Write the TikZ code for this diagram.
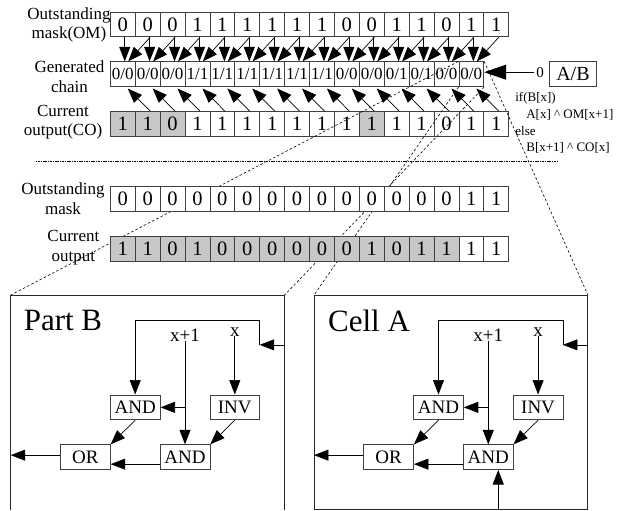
\documentclass[tikz,border=0pt]{standalone}
\usepackage{fontspec}
\setmainfont{Liberation Serif}
\usetikzlibrary{arrows.meta}
\tikzset{
  cellbox/.style={draw=black!75,line width=0.8pt,rectangle,inner sep=0pt,minimum width=24.9pt,minimum height=24.9pt,font=\fontsize{20.5}{20.5}\selectfont},
  chainbox/.style={cellbox,font=\fontsize{17}{17}\selectfont},
  graycell/.style={cellbox,fill=black!22},
  whitecell/.style={cellbox,fill=white},
  gatebox/.style={draw=black!75,line width=0.8pt,rectangle,inner sep=0pt,minimum width=49.8pt,minimum height=24.9pt,font=\fontsize{19}{19}\selectfont},
  rowlabel/.style={align=center,inner sep=0pt,font=\fontsize{17}{19.5}\selectfont},
  codeline/.style={anchor=west,inner sep=0pt,font=\fontsize{13}{13}\selectfont},
  inlabel/.style={inner sep=0pt,font=\fontsize{19}{19}\selectfont},
  titlelabel/.style={inner sep=0pt,font=\fontsize{31}{31}\selectfont},
  arrowline/.style={line width=0.7pt,-{Triangle[length=14.5pt,width=11pt]}},
  bigarrow/.style={line width=0.8pt,-{Triangle[length=22pt,width=15pt]}},
  zoomline/.style={line width=0.6pt,dash pattern=on 2.5pt off 2.2pt},
  wallline/.style={line width=0.8pt,black!85}
}
\begin{document}
\begin{tikzpicture}[x=24.9pt,y=24.9pt]
\node[rowlabel] (lom) at (-1.66,19.48) {Outstanding\\mask(OM)};
\node[rowlabel] (lgc) at (-1.64,17.41) {Generated\\chain};
\node[rowlabel] (lco) at (-1.9,15.58) {Current\\output(CO)};
\node[cellbox] (om0) at (0.5,19.5) {0};
\node[cellbox] (om1) at (1.5,19.5) {0};
\node[cellbox] (om2) at (2.5,19.5) {0};
\node[cellbox] (om3) at (3.5,19.5) {1};
\node[cellbox] (om4) at (4.5,19.5) {1};
\node[cellbox] (om5) at (5.5,19.5) {1};
\node[cellbox] (om6) at (6.5,19.5) {1};
\node[cellbox] (om7) at (7.5,19.5) {1};
\node[cellbox] (om8) at (8.5,19.5) {1};
\node[cellbox] (om9) at (9.5,19.5) {0};
\node[cellbox] (om10) at (10.5,19.5) {0};
\node[cellbox] (om11) at (11.5,19.5) {1};
\node[cellbox] (om12) at (12.5,19.5) {1};
\node[cellbox] (om13) at (13.5,19.5) {0};
\node[cellbox] (om14) at (14.5,19.5) {1};
\node[cellbox] (om15) at (15.5,19.5) {1};
\node[chainbox] (gc0) at (0.5,17.5) {0/0};
\node[chainbox] (gc1) at (1.5,17.5) {0/0};
\node[chainbox] (gc2) at (2.5,17.5) {0/0};
\node[chainbox] (gc3) at (3.5,17.5) {1/1};
\node[chainbox] (gc4) at (4.5,17.5) {1/1};
\node[chainbox] (gc5) at (5.5,17.5) {1/1};
\node[chainbox] (gc6) at (6.5,17.5) {1/1};
\node[chainbox] (gc7) at (7.5,17.5) {1/1};
\node[chainbox] (gc8) at (8.5,17.5) {1/1};
\node[chainbox] (gc9) at (9.5,17.5) {0/0};
\node[chainbox] (gc10) at (10.5,17.5) {0/0};
\node[chainbox] (gc11) at (11.5,17.5) {0/1};
\node[chainbox] (gc12) at (12.5,17.5) {0/1};
\node[chainbox] (gc13) at (13.5,17.5) {0/0};
\node[chainbox] (gc14) at (14.5,17.5) {0/0};
\node[graycell] (co0) at (0.5,15.5) {1};
\node[graycell] (co1) at (1.5,15.5) {1};
\node[graycell] (co2) at (2.5,15.5) {0};
\node[cellbox] (co3) at (3.5,15.5) {1};
\node[cellbox] (co4) at (4.5,15.5) {1};
\node[cellbox] (co5) at (5.5,15.5) {1};
\node[cellbox] (co6) at (6.5,15.5) {1};
\node[cellbox] (co7) at (7.5,15.5) {1};
\node[cellbox] (co8) at (8.5,15.5) {1};
\node[cellbox] (co9) at (9.5,15.5) {1};
\node[graycell] (co10) at (10.5,15.5) {1};
\node[cellbox] (co11) at (11.5,15.5) {1};
\node[cellbox] (co12) at (12.5,15.5) {1};
\node[cellbox] (co13) at (13.5,15.5) {0};
\node[cellbox] (co14) at (14.5,15.5) {1};
\node[cellbox] (co15) at (15.5,15.5) {1};
\draw[arrowline] ([xshift=2pt]om0.south) -- ([xshift=2pt]gc0.north);
\draw[arrowline] ([xshift=2pt]om1.south) -- ([xshift=2pt]gc1.north);
\draw[arrowline] ([xshift=2pt]om2.south) -- ([xshift=2pt]gc2.north);
\draw[arrowline] ([xshift=2pt]om3.south) -- ([xshift=2pt]gc3.north);
\draw[arrowline] ([xshift=2pt]om4.south) -- ([xshift=2pt]gc4.north);
\draw[arrowline] ([xshift=2pt]om5.south) -- ([xshift=2pt]gc5.north);
\draw[arrowline] ([xshift=2pt]om6.south) -- ([xshift=2pt]gc6.north);
\draw[arrowline] ([xshift=2pt]om7.south) -- ([xshift=2pt]gc7.north);
\draw[arrowline] ([xshift=2pt]om8.south) -- ([xshift=2pt]gc8.north);
\draw[arrowline] ([xshift=2pt]om9.south) -- ([xshift=2pt]gc9.north);
\draw[arrowline] ([xshift=2pt]om10.south) -- ([xshift=2pt]gc10.north);
\draw[arrowline] ([xshift=2pt]om11.south) -- ([xshift=2pt]gc11.north);
\draw[arrowline] ([xshift=2pt]om12.south) -- ([xshift=2pt]gc12.north);
\draw[arrowline] ([xshift=2pt]om13.south) -- ([xshift=2pt]gc13.north);
\draw[arrowline] ([xshift=2pt]om14.south) -- ([xshift=2pt]gc14.north);
\draw[arrowline] ([xshift=2.5pt]om1.south) -- ([xshift=5.5pt]gc0.north);
\draw[arrowline] ([xshift=2.5pt]om2.south) -- ([xshift=5.5pt]gc1.north);
\draw[arrowline] ([xshift=2.5pt]om3.south) -- ([xshift=5.5pt]gc2.north);
\draw[arrowline] ([xshift=2.5pt]om4.south) -- ([xshift=5.5pt]gc3.north);
\draw[arrowline] ([xshift=2.5pt]om5.south) -- ([xshift=5.5pt]gc4.north);
\draw[arrowline] ([xshift=2.5pt]om6.south) -- ([xshift=5.5pt]gc5.north);
\draw[arrowline] ([xshift=2.5pt]om7.south) -- ([xshift=5.5pt]gc6.north);
\draw[arrowline] ([xshift=2.5pt]om8.south) -- ([xshift=5.5pt]gc7.north);
\draw[arrowline] ([xshift=2.5pt]om9.south) -- ([xshift=5.5pt]gc8.north);
\draw[arrowline] ([xshift=2.5pt]om10.south) -- ([xshift=5.5pt]gc9.north);
\draw[arrowline] ([xshift=2.5pt]om11.south) -- ([xshift=5.5pt]gc10.north);
\draw[arrowline] ([xshift=2.5pt]om12.south) -- ([xshift=5.5pt]gc11.north);
\draw[arrowline] ([xshift=2.5pt]om13.south) -- ([xshift=5.5pt]gc12.north);
\draw[arrowline] ([xshift=2.5pt]om14.south) -- ([xshift=5.5pt]gc13.north);
\draw[arrowline] ([xshift=2.5pt]om15.south) -- ([xshift=5.5pt]gc14.north);
\draw[arrowline] ([xshift=2.5pt]co1.north) -- ([xshift=5pt,yshift=-1.5pt]gc0.south);
\draw[arrowline] ([xshift=2.5pt]co2.north) -- ([xshift=5pt,yshift=-1.5pt]gc1.south);
\draw[arrowline] ([xshift=2.5pt]co3.north) -- ([xshift=5pt,yshift=-1.5pt]gc2.south);
\draw[arrowline] ([xshift=2.5pt]co4.north) -- ([xshift=5pt,yshift=-1.5pt]gc3.south);
\draw[arrowline] ([xshift=2.5pt]co5.north) -- ([xshift=5pt,yshift=-1.5pt]gc4.south);
\draw[arrowline] ([xshift=2.5pt]co6.north) -- ([xshift=5pt,yshift=-1.5pt]gc5.south);
\draw[arrowline] ([xshift=2.5pt]co7.north) -- ([xshift=5pt,yshift=-1.5pt]gc6.south);
\draw[arrowline] ([xshift=2.5pt]co8.north) -- ([xshift=5pt,yshift=-1.5pt]gc7.south);
\draw[arrowline] ([xshift=2.5pt]co9.north) -- ([xshift=5pt,yshift=-1.5pt]gc8.south);
\draw[arrowline] ([xshift=2.5pt]co10.north) -- ([xshift=5pt,yshift=-1.5pt]gc9.south);
\draw[arrowline] ([xshift=2.5pt]co11.north) -- ([xshift=5pt,yshift=-1.5pt]gc10.south);
\draw[arrowline] ([xshift=2.5pt]co12.north) -- ([xshift=5pt,yshift=-1.5pt]gc11.south);
\draw[arrowline] ([xshift=2.5pt]co13.north) -- ([xshift=5pt,yshift=-1.5pt]gc12.south);
\draw[arrowline] ([xshift=2.5pt]co14.north) -- ([xshift=5pt,yshift=-1.5pt]gc13.south);
\draw[arrowline] ([xshift=2.5pt]co15.north) -- ([xshift=5pt,yshift=-1.5pt]gc14.south);
\node[inner sep=2pt,font=\fontsize{15}{15}\selectfont] (zero) at (17.26,17.58) {0};
\node[gatebox,minimum width=47.4pt,font=\fontsize{20}{20}\selectfont] (ab) at (18.58,17.52) {A/B};
\draw[bigarrow] (zero.west) -- (zero.west -| gc14.east);
\node[codeline] (cif) at (16.26,16.55) {if(B[x])};
\node[codeline] (cthen) at (16.7,15.86) {A[x] \textasciicircum{} OM[x+1]};
\node[codeline] (celse) at (16.26,15.23) {else};
\node[codeline] (cother) at (16.7,14.55) {B[x+1] \textasciicircum{} CO[x]};
\coordinate (sepl) at (-2.99,14.02);
\coordinate (sepr) at (17.98,14.02);
\draw[line width=0.6pt,dash pattern=on 1.6pt off 0.8pt] (sepl) -- (sepr);
\coordinate (bnw) at (-4,8.63);
\coordinate (bne) at (7,8.63);
\coordinate (anw) at (8.18,8.63);
\coordinate (ane) at (19.18,8.63);
\draw[zoomline] (gc14.north west) -- (bnw);
\draw[zoomline] (gc14.south east) -- (bne);
\draw[zoomline] (gc14.south west) -- (anw);
\draw[zoomline] (gc14.north east) -- (ane);
\node[rowlabel] (lmk) at (-1.9,12.5) {Outstanding\\mask};
\node[rowlabel] (lcu) at (-1.48,10.54) {Current\\output};
\node[whitecell] (mk0) at (0.5,12.5) {0};
\node[whitecell] (mk1) at (1.5,12.5) {0};
\node[whitecell] (mk2) at (2.5,12.5) {0};
\node[whitecell] (mk3) at (3.5,12.5) {0};
\node[whitecell] (mk4) at (4.5,12.5) {0};
\node[whitecell] (mk5) at (5.5,12.5) {0};
\node[whitecell] (mk6) at (6.5,12.5) {0};
\node[whitecell] (mk7) at (7.5,12.5) {0};
\node[whitecell] (mk8) at (8.5,12.5) {0};
\node[whitecell] (mk9) at (9.5,12.5) {0};
\node[whitecell] (mk10) at (10.5,12.5) {0};
\node[whitecell] (mk11) at (11.5,12.5) {0};
\node[whitecell] (mk12) at (12.5,12.5) {0};
\node[whitecell] (mk13) at (13.5,12.5) {0};
\node[whitecell] (mk14) at (14.5,12.5) {1};
\node[whitecell] (mk15) at (15.5,12.5) {1};
\node[graycell] (cu0) at (0.5,10.5) {1};
\node[graycell] (cu1) at (1.5,10.5) {1};
\node[graycell] (cu2) at (2.5,10.5) {0};
\node[graycell] (cu3) at (3.5,10.5) {1};
\node[graycell] (cu4) at (4.5,10.5) {0};
\node[graycell] (cu5) at (5.5,10.5) {0};
\node[graycell] (cu6) at (6.5,10.5) {0};
\node[graycell] (cu7) at (7.5,10.5) {0};
\node[graycell] (cu8) at (8.5,10.5) {0};
\node[graycell] (cu9) at (9.5,10.5) {0};
\node[graycell] (cu10) at (10.5,10.5) {1};
\node[graycell] (cu11) at (11.5,10.5) {0};
\node[graycell] (cu12) at (12.5,10.5) {1};
\node[graycell] (cu13) at (13.5,10.5) {1};
\node[whitecell] (cu14) at (14.5,10.5) {1};
\node[whitecell] (cu15) at (15.5,10.5) {1};
\draw[wallline] (-4,0) -- (bnw) -- (bne) -- (7,0);
\node[titlelabel] (bname) at (-1.9,7.6) {Part B};
\node[inlabel] (bxp) at (3,7.03) {x+1};
\node[inlabel] (bxx) at (5,7.16) {x};
\node[gatebox] (band1) at (1,4.12) {AND};
\node[gatebox] (binv) at (5,4.12) {INV};
\node[gatebox] (band2) at (3,2.12) {AND};
\node[gatebox] (bor) at (-1,2.12) {OR};
\coordinate (bin) at (7,6.63);
\coordinate (bturn) at (6,6.63);
\coordinate (bout) at (-4,2.2);
\draw[arrowline] (bin) -- (bturn);
\draw[arrowline] (bturn) -- (6,7.62) -- (1,7.62) -- (band1.north);
\draw[arrowline] (bxp.south) -- (band2.north);
\draw[arrowline] (band1.east -| band2.north) -- (band1.east);
\draw[arrowline] (bxx.south) -- (binv.north);
\draw[arrowline] (binv.south) -- (band2.north east);
\draw[arrowline] (band1.south) -- (bor.north east);
\draw[arrowline] ([yshift=-7pt]band2.west) -- ([yshift=-7pt]bor.east);
\draw[arrowline] (bor.west |- bout) -- (bout);
\draw[wallline] (anw) rectangle (19.18,0.02);
\node[titlelabel] (aname) at (10.39,7.6) {Cell A};
\node[inlabel] (axp) at (15.18,7.03) {x+1};
\node[inlabel] (axx) at (17.18,7.16) {x};
\node[gatebox] (aand1) at (13.18,4.12) {AND};
\node[gatebox] (ainv) at (17.18,4.12) {INV};
\node[gatebox] (aand2) at (15.18,2.12) {AND};
\node[gatebox] (aor) at (11.18,2.12) {OR};
\coordinate (ain) at (19.18,6.63);
\coordinate (aturn) at (18.18,6.63);
\coordinate (aout) at (8.18,2.2);
\coordinate (asrc) at (15.58,0.02);
\draw[arrowline] (ain) -- (aturn);
\draw[arrowline] (aturn) -- (18.18,7.62) -- (13.18,7.62) -- (aand1.north);
\draw[arrowline] (axp.south) -- (aand2.north);
\draw[arrowline] (aand1.east -| aand2.north) -- (aand1.east);
\draw[arrowline] (axx.south) -- (ainv.north);
\draw[arrowline] (ainv.south) -- (aand2.north east);
\draw[arrowline] (aand1.south) -- (aor.north east);
\draw[arrowline] ([yshift=-7pt]aand2.west) -- ([yshift=-7pt]aor.east);
\draw[arrowline] (aor.west |- aout) -- (aout);
\draw[arrowline] (asrc) -- (asrc |- aand2.south);
\path (-4.43,0) rectangle (20.51,20.48);
\end{tikzpicture}
\end{document}
